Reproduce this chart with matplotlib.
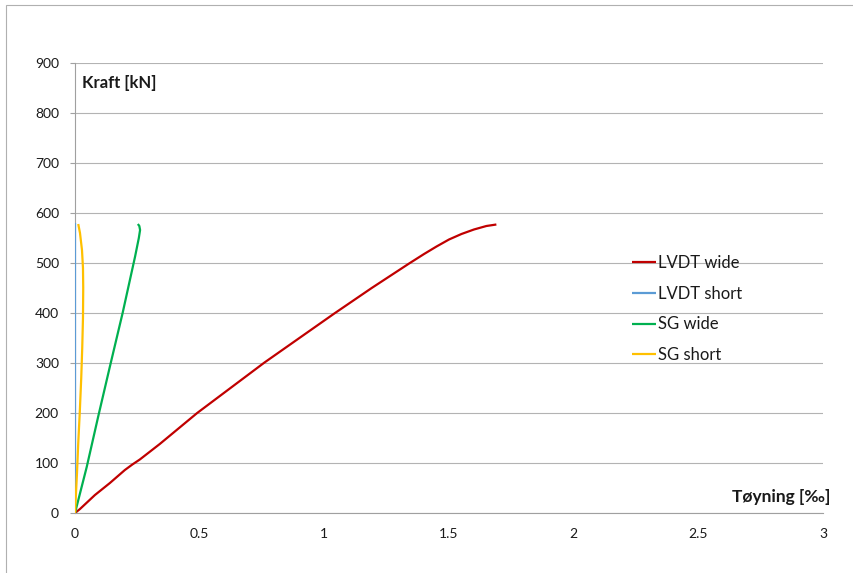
import matplotlib
matplotlib.use("Agg")
import matplotlib.pyplot as plt
from matplotlib.patches import Rectangle

# Load vs strain curves
lvdt_wide_strain = [0, 0.02, 0.05, 0.08, 0.11, 0.14, 0.17, 0.20, 0.23, 0.26, 0.34, 0.49, 0.76,
                    1.04, 1.19, 1.34, 1.40, 1.45, 1.50, 1.55, 1.60, 1.65, 1.69]
lvdt_wide_force = [0, 8, 22, 36, 48, 60, 73, 86, 97, 107, 138, 200, 301,
                   399, 450, 499, 518, 533, 547, 558, 567, 574, 577]

lvdt_short_strain = [0.0005, 0.0005, 0.0005]
lvdt_short_force = [0, 300, 579]

sg_wide_strain = [0, 0.047, 0.094, 0.140, 0.191, 0.241, 0.256, 0.261, 0.258, 0.252]
sg_wide_force = [0, 92, 195, 293, 400, 513, 550, 566, 574, 578]

sg_short_strain = [0, 0.003, 0.008, 0.013, 0.019, 0.025, 0.029, 0.032, 0.033, 0.032, 0.028, 0.020, 0.013]
sg_short_force = [0, 30, 80, 140, 200, 270, 330, 390, 450, 490, 526, 560, 578]

series_labels = ["LVDT wide", "LVDT short", "SG wide", "SG short"]
series_colors = ["#C00000", "#5B9BD5", "#00B050", "#FFC000"]

x_ticks = [0, 0.5, 1, 1.5, 2, 2.5, 3]
x_tick_labels = ["0", "0.5", "1", "1.5", "2", "2.5", "3"]
y_ticks = list(range(0, 901, 100))

W, H = 854, 573
fig = plt.figure(figsize=(W / 100, H / 100), dpi=100)
ax = fig.add_axes([75 / W, 1 - 513 / H, (823 - 75) / W, (513 - 63) / H])

font = ["Lato", "DejaVu Sans"]
plt.rcParams["font.family"] = font

series = [
    (lvdt_wide_strain, lvdt_wide_force),
    (lvdt_short_strain, lvdt_short_force),
    (sg_wide_strain, sg_wide_force),
    (sg_short_strain, sg_short_force),
]
for (xs, ys), lab, col in zip(series, series_labels, series_colors):
    ax.plot(xs, ys, color=col, lw=1.6, label=lab, solid_capstyle="butt",
            solid_joinstyle="round", zorder=3)

ax.set_xlim(0, 3)
ax.set_ylim(0, 900)
ax.set_xticks(x_ticks)
ax.set_xticklabels(x_tick_labels)
ax.set_yticks(y_ticks)
ax.set_xticks([0, 3], minor=True)

ax.yaxis.grid(True, color="#b3b3b3", lw=0.8)
ax.set_axisbelow(True)
for s in ["top", "right"]:
    ax.spines[s].set_visible(False)
for s in ["left", "bottom"]:
    ax.spines[s].set_color("#a0a0a0")
    ax.spines[s].set_linewidth(0.8)

ax.tick_params(axis="y", which="major", length=3.6, width=0.8, color="#a0a0a0",
               pad=8.0, labelsize=10, labelcolor="#1a1a1a")
ax.tick_params(axis="x", which="major", length=0, pad=11, labelsize=10,
               labelcolor="#1a1a1a")
ax.tick_params(axis="x", which="minor", length=3.6, width=0.8, color="#a0a0a0")
for lbl in ax.get_xticklabels() + ax.get_yticklabels():
    lbl.set_family(font)

fig.text(82 / W, 1 - 83 / H, "Kraft [kN]", fontsize=12, fontweight="bold",
         family=font, ha="left", va="center", color="#1a1a1a")
fig.text(830 / W, 1 - 497 / H, "Tøyning [‰]", fontsize=12.5, fontweight="bold",
         family=font, ha="right", va="center", color="#1a1a1a")

leg = ax.legend(loc="upper left", bbox_to_anchor=(632 / W, 1 - 255 / H),
                bbox_transform=fig.transFigure, frameon=False, borderpad=0,
                borderaxespad=0, handlelength=1.45, handletextpad=0.1,
                labelspacing=0.88, prop={"family": font, "size": 12})
for t in leg.get_texts():
    t.set_color("#1a1a1a")

# chart frame
fig.patches.append(Rectangle((6 / W, -0.1), 1.2, (573 - 5) / H + 0.1,
                             transform=fig.transFigure, fill=False,
                             edgecolor="#b0b0b0", lw=0.8, clip_on=False))

fig.savefig("out.png", dpi=100)
